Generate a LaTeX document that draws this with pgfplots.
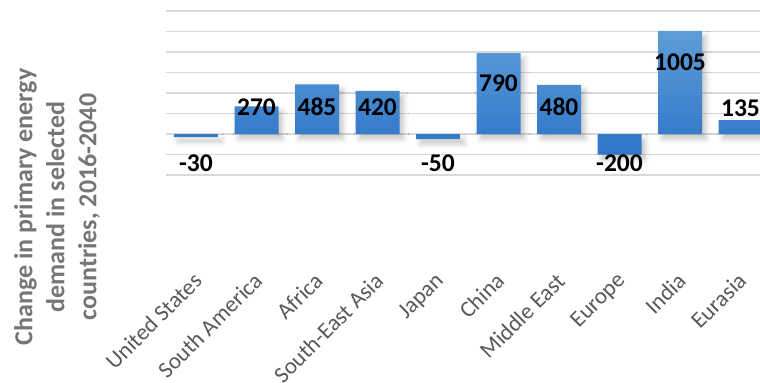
\documentclass[border=0pt]{standalone}
\usepackage{fontspec}
\setmainfont{Carlito}
\usepackage{pgfplots}
\pgfplotsset{compat=1.18}
\usetikzlibrary{shadows.blur}
\definecolor{gridc}{RGB}{217,217,217}
\definecolor{bartop}{RGB}{93,157,215}
\definecolor{barbot}{RGB}{46,117,200}
\definecolor{titlec}{RGB}{118,118,118}
\definecolor{tickc}{RGB}{89,89,89}
\begin{document}
\begin{tikzpicture}
\begin{axis}[
  scale only axis,
  width=594.25pt, height=164pt,
  xmin=-0.5, xmax=9.322,
  ymin=-400, ymax=1200,
  ytick={-400,-200,0,200,400,600,800,1000,1200},
  yticklabels={},
  ymajorgrids,
  grid style={gridc, line width=1.5pt},
  axis line style={draw=none},
  major tick length=0pt,
  xtick={0,1,2,3,4,5,6,7,8,9},
  xticklabels={United States,South America,Africa,South-East Asia,Japan,China,Middle East,Europe,India,Eurasia},
  xticklabel style={xshift=-4pt, yshift=-96pt, rotate=45, anchor=north east, inner sep=0pt, font=\fontsize{23}{27}\selectfont, text=tickc},
  ylabel={Change in primary energy\\demand in selected\\countries, 2016-2040},
  ylabel style={at={(axis description cs:-0.183,-0.195)}, rotate=0, anchor=center, align=center,
    font=\fontsize{26}{32}\selectfont\bfseries, text=titlec},
]
\addplot[ybar, bar width=44pt, draw=none, shade, top color=bartop, bottom color=barbot,
  blur shadow={shadow xshift=4pt, shadow yshift=-5pt, shadow blur radius=5pt, shadow opacity=22}]
  coordinates {(0,-30) (1,270) (2,485) (3,420) (4,-50) (5,790) (6,480) (7,-200) (8,1005) (9,135)};
\addplot[draw=none, mark=none, nodes near coords, point meta=explicit symbolic,
  nodes near coords style={anchor=center, inner sep=0pt, font=\fontsize{25.5}{30}\selectfont\bfseries, text=black}]
  table[meta=lab] {
x y lab
0 -283 -30
1 263 270
2 263 485
3 263 420
4 -283 -50
5 498 790
6 263 480
7 -283 -200
8 702 1005
9 254 135
};
\coordinate (bl) at (rel axis cs:0,0);
\coordinate (tr) at (rel axis cs:1,1);
\end{axis}
\pgfresetboundingbox
\path ([shift={(-165.75pt,-208pt)}]bl) rectangle ([shift={(0pt,11pt)}]tr);
\end{tikzpicture}
\end{document}
